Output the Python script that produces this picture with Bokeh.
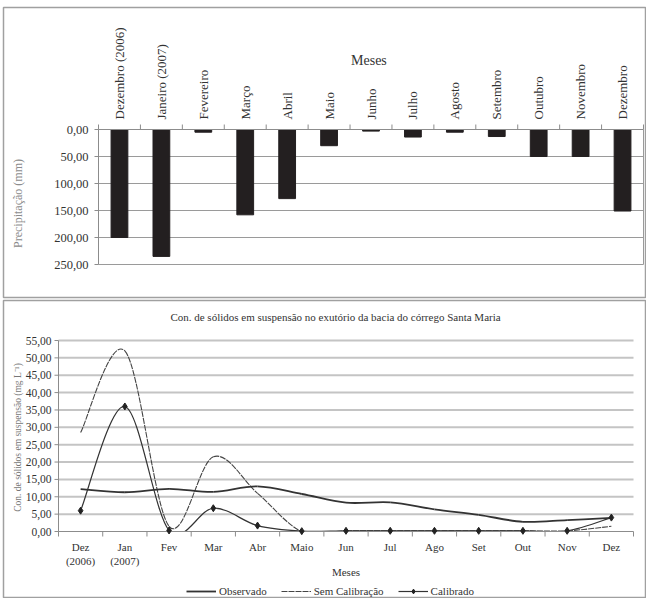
import numpy as np
from bokeh.plotting import figure
from bokeh.models import Range1d, Legend, LegendItem
from bokeh.core.properties import value
from bokeh.embed import file_html
from bokeh.resources import INLINE

# ---------------- data ----------------
meses_top = ["Dezembro (2006)", "Janeiro (2007)", "Fevereiro", "Março", "Abril", "Maio",
             "Junho", "Julho", "Agosto", "Setembro", "Outubro", "Novembro", "Dezembro"]
precipitacao = [200, 235, 5, 158, 128, 30, 3, 14, 5, 13, 50, 50, 151]
precip_ticks = [0, 50, 100, 150, 200, 250]

meses_bottom = ["Dez\n(2006)", "Jan\n(2007)", "Fev", "Mar", "Abr", "Maio", "Jun",
                "Jul", "Ago", "Set", "Out", "Nov", "Dez"]
observado = [12.2, 11.3, 12.3, 11.4, 13.0, 10.8, 8.3, 8.4, 6.4, 4.8, 2.8, 3.3, 3.9]
sem_calibracao = [28.5, 52.0, 1.5, 21.5, 11.0, 0.0, 0.2, 0.2, 0.2, 0.2, 0.2, 0.2, 1.5]
calibrado = [6.0, 36.0, 0.3, 6.7, 1.7, 0.1, 0.2, 0.2, 0.2, 0.2, 0.2, 0.2, 4.0]
conc_ticks = list(range(0, 56, 5))

FONT = "Liberation Serif"
DARK = "#333333"
AXIS = "#8c8c8c"


def fmt(t):
    return f"{t:.2f}".replace(".", ",")


def smooth(xs, ys):
    x = np.asarray(xs, float)
    y = np.asarray(ys, float)
    xp = np.concatenate([[x[0]], x, [x[-1]]])
    yp = np.concatenate([[y[0]], y, [y[-1]]])
    d = dict(x0=[], y0=[], x1=[], y1=[], cx0=[], cy0=[], cx1=[], cy1=[])
    for i in range(len(x) - 1):
        d["x0"].append(xp[i + 1]); d["y0"].append(yp[i + 1])
        d["x1"].append(xp[i + 2]); d["y1"].append(yp[i + 2])
        d["cx0"].append(xp[i + 1] + (xp[i + 2] - xp[i]) / 6)
        d["cy0"].append(yp[i + 1] + (yp[i + 2] - yp[i]) / 6)
        d["cx1"].append(xp[i + 2] - (xp[i + 3] - xp[i + 1]) / 6)
        d["cy1"].append(yp[i + 2] - (yp[i + 3] - yp[i + 1]) / 6)
    return d


def rng(v0, p0, v1, p1, pa, pb):
    k = (v1 - v0) / (p1 - p0)
    return Range1d(v0 + (pa - p0) * k, v0 + (pb - p0) * k)


n = len(meses_top)
centers = [i + 0.5 for i in range(n)]
bounds = list(range(n + 1))
pmax = precip_ticks[-1]
cmax = conc_ticks[-1]

W, H = 646, 598
TX, TY = (98, 643), (129, 264)     # top chart plot box (canvas px)
BX, BY = (58, 633), (531, 340)     # bottom chart plot box (canvas px)

p = figure(width=W, height=H, x_range=Range1d(0, W), y_range=Range1d(H, 0),
           output_backend="svg", toolbar_location=None,
           x_axis_location=None, y_axis_location=None, min_border=0)
p.outline_line_color = None
p.xgrid.visible = False
p.ygrid.visible = False
p.extra_x_ranges = {"tx": rng(0, TX[0], n, TX[1], 0, W), "bx": rng(0, BX[0], n, BX[1], 0, W)}
p.extra_y_ranges = {"ty": rng(0, TY[0], pmax, TY[1], H, 0), "by": rng(0, BY[0], cmax, BY[1], H, 0)}
TOP = dict(x_range_name="tx", y_range_name="ty")
BOT = dict(x_range_name="bx", y_range_name="by")
ux_t = n / (TX[1] - TX[0]); uy_t = pmax / (TY[1] - TY[0])
ux_b = n / (BX[1] - BX[0]); uy_b = cmax / (BY[0] - BY[1])
TXT = dict(text_font=value(FONT), text_color=DARK)

# panel borders
p.quad(left=[3, 3], right=[645, 645], top=[7, 300], bottom=[297, 597],
       fill_color=None, line_color="#a0a0a0", line_width=1.5)

# ---------------- top chart ----------------
g = precip_ticks[1:]
p.segment(x0=[0] * len(g), x1=[n] * len(g), y0=g, y1=g, line_color="#9a9a9a", line_width=1, **TOP)
p.segment(x0=[n], x1=[n], y0=[0], y1=[pmax], line_color="#9a9a9a", line_width=1, **TOP)
p.vbar(x=centers, top=precipitacao, bottom=0, width=0.4,
       fill_color="#231f20", line_color="#231f20", **TOP)
p.segment(x0=[0, 0], x1=[n, 0], y0=[0, 0], y1=[0, pmax], line_color=AXIS, line_width=1, **TOP)
p.segment(x0=[-4 * ux_t] * len(precip_ticks), x1=[0] * len(precip_ticks),
          y0=precip_ticks, y1=precip_ticks, line_color=AXIS, **TOP)
p.segment(x0=bounds, x1=bounds, y0=[0] * len(bounds), y1=[-5 * uy_t] * len(bounds),
          line_color=AXIS, **TOP)
p.text(x=[-10 * ux_t] * len(precip_ticks), y=precip_ticks, text=[fmt(t) for t in precip_ticks],
       text_align="right", text_baseline="middle", text_font_size="12.5px", **TXT, **TOP)
p.text(x=centers, y=[-10 * uy_t] * n, text=meses_top, angle=np.pi / 2,
       text_align="left", text_baseline="middle", text_font_size="13px", **TXT, **TOP)
p.text(x=[6.45], y=[-69 * uy_t], text=["Meses"], text_align="center", text_baseline="middle",
       text_font_size="14px", **TXT, **TOP)
p.text(x=[17], y=[203], text=["Precipitação (mm)"], angle=np.pi / 2, text_align="center",
       text_baseline="middle", text_font=value(FONT), text_font_size="12px", text_color=AXIS)

# ---------------- bottom chart ----------------
g2 = conc_ticks[1:]
p.segment(x0=[0] * len(g2), x1=[n] * len(g2), y0=g2, y1=g2, line_color="#c4c4c4",
          line_width=2, **BOT)
BZ = dict(x0="x0", y0="y0", x1="x1", y1="y1", cx0="cx0", cy0="cy0", cx1="cx1", cy1="cy1")
r_sem = p.bezier(source=smooth(centers, sem_calibracao), line_color="#444444", line_width=1.1,
                 line_dash="6 1", **BZ, **BOT)
r_cal = p.bezier(source=smooth(centers, calibrado), line_color=DARK, line_width=1.2, **BZ, **BOT)
r_obs = p.bezier(source=smooth(centers, observado), line_color=DARK, line_width=1.8, **BZ, **BOT)
# hide the parts of the smoothed curves that fall below the 0 axis (as the plot area clips them)
p.quad(left=[0], right=[n], top=[0], bottom=[-6 * uy_b], fill_color="white", line_color=None, **BOT)
p.segment(x0=[0, 0], x1=[n, 0], y0=[0, 0], y1=[0, cmax], line_color=AXIS, line_width=1, **BOT)
p.segment(x0=[-4 * ux_b] * len(conc_ticks), x1=[0] * len(conc_ticks), y0=conc_ticks,
          y1=conc_ticks, line_color=AXIS, **BOT)
p.segment(x0=bounds, x1=bounds, y0=[0] * len(bounds), y1=[-5 * uy_b] * len(bounds),
          line_color=AXIS, **BOT)
r_mk = p.scatter(x=centers, y=calibrado, marker="diamond", size=7, fill_color="#222222",
                 line_color="#222222", **BOT)
p.text(x=[-7 * ux_b] * len(conc_ticks), y=conc_ticks, text=[fmt(t) for t in conc_ticks],
       text_align="right", text_baseline="middle", text_font_size="11.5px", **TXT, **BOT)
p.text(x=centers, y=[-9 * uy_b] * n, text=meses_bottom, text_align="center",
       text_baseline="top", text_font_size="11px", **TXT, **BOT)
p.text(x=[6.5], y=[-40 * uy_b], text=["Meses"], text_align="center", text_baseline="middle",
       text_font_size="11px", **TXT, **BOT)
p.text(x=[335], y=[316],
       text=["Con. de sólidos em suspensão no exutório da bacia do córrego Santa Maria"],
       text_align="center", text_baseline="middle", text_font_size="11px", **TXT)
p.text(x=[17], y=[437], text=["Con. de sólidos em suspensão (mg L⁻¹)"], angle=np.pi / 2,
       text_align="center", text_baseline="middle", text_font=value(FONT),
       text_font_size="9.5px", text_color="#777777")

# legend built from the plotted renderers
legend = Legend(items=[LegendItem(label="Observado", renderers=[r_obs]),
                       LegendItem(label="Sem Calibração", renderers=[r_sem]),
                       LegendItem(label="Calibrado", renderers=[r_cal, r_mk])],
                location=(186, 1), orientation="horizontal", border_line_color=None,
                background_fill_alpha=0, label_text_font=FONT, label_text_font_size="11px",
                label_text_color=DARK, glyph_width=30, glyph_height=12, label_height=12,
                spacing=14, padding=0, margin=0, label_standoff=3)
p.add_layout(legend)

open("out.html", "w").write(file_html(p, INLINE))
